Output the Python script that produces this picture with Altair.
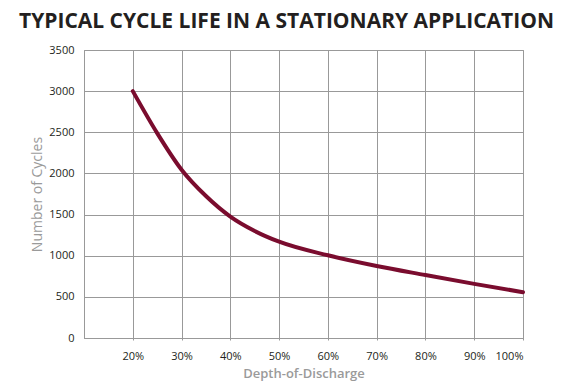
import altair as alt
import pandas as pd

dod = [20, 25, 30, 35, 40, 45, 50, 60, 70, 80, 90, 100]
cycles = [3000, 2490, 2045, 1725, 1475, 1300, 1170, 1005, 875, 765, 658, 557]
x_ticks = [20, 30, 40, 50, 60, 70, 80, 90, 100]
y_ticks = [0, 500, 1000, 1500, 2000, 2500, 3000, 3500]

df = pd.DataFrame({"dod": dod, "cycles": cycles})

chart = alt.Chart(df).mark_line(
    color="#7a0c2e", strokeWidth=4, interpolate="monotone", strokeCap="round"
).encode(
    x=alt.X("dod:Q",
            scale=alt.Scale(domain=[10, 100], nice=False, zero=False),
            axis=alt.Axis(values=x_ticks, labelExpr="datum.value + '%'",
                          title="Depth-of-Discharge", grid=True,
                          tickSize=2, tickColor="#999999",
                          labelPadding=10, titlePadding=6,
                          titleFontWeight=600)),
    y=alt.Y("cycles:Q",
            scale=alt.Scale(domain=[0, 3500], nice=False),
            axis=alt.Axis(values=y_ticks, format="d", title="Number of Cycles",
                          grid=True, tickSize=0, labelPadding=10,
                          titlePadding=4, titleFontWeight="normal",
                          titleFontSize=14)),
).properties(
    width=439, height=288,
    autosize=alt.AutoSizeParams(type="none"),
    padding={"left": 76, "top": 42, "right": 44, "bottom": 48},
    title=alt.TitleParams("TYPICAL CYCLE LIFE IN A STATIONARY APPLICATION",
                          font="Open Sans", fontSize=21, fontWeight="bold",
                          color="#231f20", anchor="middle", dx=-17, offset=12),
).configure_axis(
    gridColor="#999999", gridWidth=1, gridOpacity=1,
    domainColor="#999999", domainWidth=1,
    labelFont="Open Sans", labelFontSize=11, labelColor="#231f20",
    titleFont="Open Sans", titleFontSize=13,
    titleColor="#9a9a9a",
).configure_view(stroke="#999999", strokeWidth=1)

chart.save("out.html", embed_options={"renderer": "svg", "actions": False})
